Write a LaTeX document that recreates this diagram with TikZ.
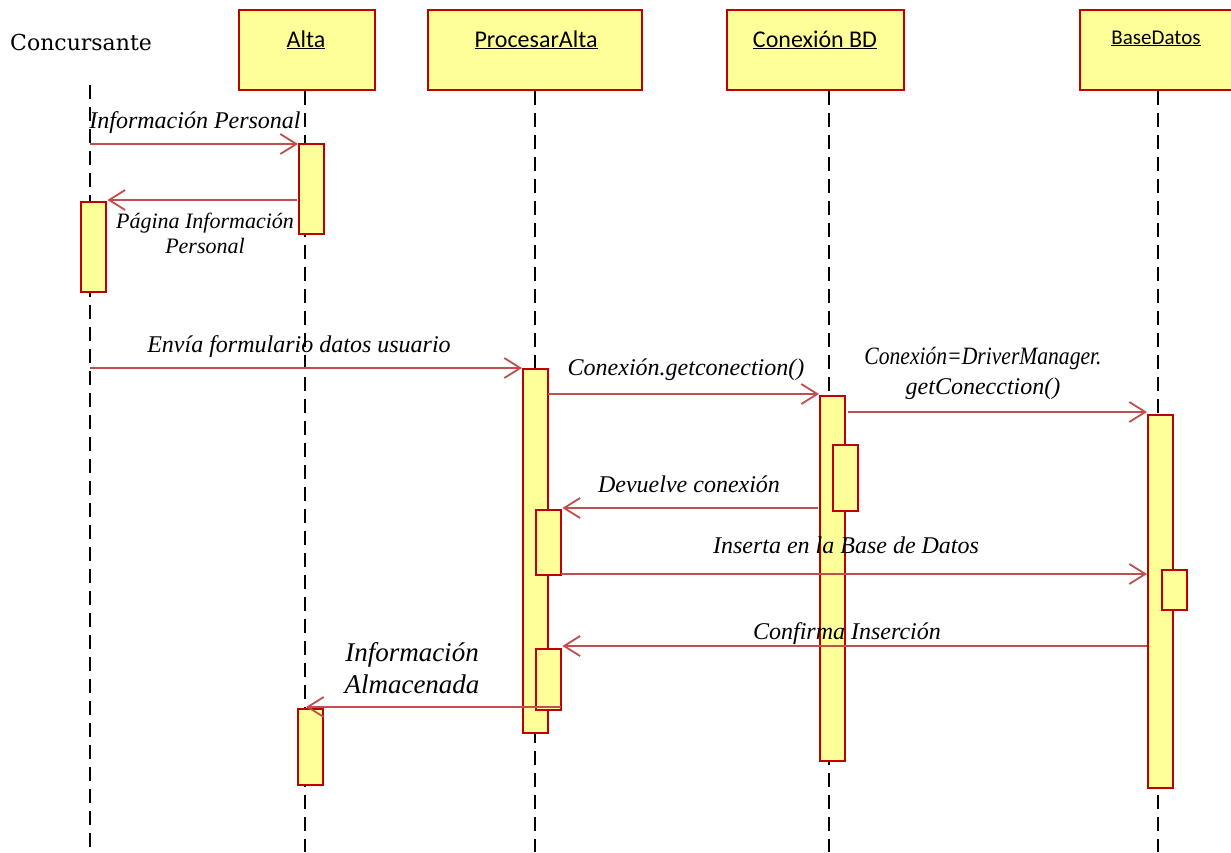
\documentclass[tikz,border=0pt]{standalone}
\usepackage{fontspec}
\usepackage{graphicx}
\newfontfamily\tmsfont{Liberation Serif}
\newfontfamily\hdrfont{Carlito}
\newfontfamily\actorfont{DejaVu Serif}
\usetikzlibrary{arrows.meta}
\definecolor{boxred}{HTML}{C00000}
\definecolor{boxyellow}{HTML}{FFFF99}
\definecolor{msgred}{HTML}{C0504D}
\begin{document}
\begin{tikzpicture}[x=1pt,y=-1pt,
  hdrbox/.style={draw=boxred, fill=boxyellow, line width=2pt, anchor=north west, inner sep=0},
  hdrtext/.style={font=\hdrfont\fontsize{24}{28}\selectfont, anchor=base, inner sep=0},
  act/.style={draw=boxred, fill=boxyellow, line width=2.4pt, anchor=north west, inner sep=0, minimum width=25pt},
  life/.style={black, line width=1.8pt, dash pattern=on 14pt off 8pt},
  msg/.style={msgred, line width=1.8pt, -{Straight Barb[length=16pt,width=20pt,line width=1.8pt]}},
  lbl/.style={font=\tmsfont\itshape\fontsize{24}{30}\selectfont, inner sep=0, align=center}]
\clip (0,0) rectangle (1231,852);
\useasboundingbox (0,0) rectangle (1231,852);
\fill[white] (0,0) rectangle (1231,852);

% participants
\node[font=\actorfont\fontsize{22}{26}\selectfont, anchor=base west, inner sep=0] (conc) at (10,50) {Concursante};
\node[hdrbox, minimum width=136pt, minimum height=80pt] (altaH) at (238,9) {};
\node[hdrbox, minimum width=214pt, minimum height=80pt] (procH) at (427,9) {};
\node[hdrbox, minimum width=177pt, minimum height=80pt] (conH) at (726,9) {};
\node[hdrbox, minimum width=170pt, minimum height=80pt] (bdH) at (1079,9) {};
\node[hdrtext] (altaT) at (306,47) {\underline{Alta}};
\node[hdrtext] (procT) at (536,47) {\underline{ProcesarAlta}};
\node[hdrtext] (conT) at (815,47) {\underline{Conexión BD}};
\node[hdrtext, font=\hdrfont\fontsize{21}{26}\selectfont] (bdT) at (1156,44) {\underline{BaseDatos}};

% lifelines
\coordinate (concTop) at (90,85);
\coordinate (concBot) at (90,852);
\coordinate (altaBot) at (305,852);
\coordinate (procBot) at (535,852);
\coordinate (conBot) at (829,852);
\coordinate (bdBot) at (1158,852);
\draw[life] (concTop) -- (concBot);
\draw[life] (altaH.south -| altaBot) -- (altaBot);
\draw[life] (procH.south -| procBot) -- (procBot);
\draw[life] (conH.south -| conBot) -- (conBot);
\draw[life] (bdH.south -| bdBot) -- (bdBot);

% activations
\node[act, minimum height=90pt] (cAct) at (80,201) {};
\node[act, minimum height=90pt] (aAct1) at (298,143) {};
\node[act, minimum height=76pt] (aAct2) at (297,708) {};
\node[act, minimum height=364pt] (pAct) at (522,368) {};
\node[act, minimum height=65pt] (pAct2) at (535,509) {};
\node[act, minimum height=61pt] (pAct3) at (535,648) {};
\node[act, minimum height=365pt] (cbAct) at (819,395) {};
\node[act, minimum height=66pt] (cbAct2) at (832,444) {};
\node[act, minimum height=373pt] (bdAct) at (1147,414) {};
\node[act, minimum height=40pt] (bdAct2) at (1161,569) {};

% messages
\coordinate (m1) at (90,144);
\coordinate (m2) at (297,200);
\coordinate (m3) at (90,368);
\coordinate (m4) at (548,394);
\coordinate (m5) at (848,412);
\coordinate (m6) at (818,508);
\coordinate (m7) at (561,574);
\coordinate (m8) at (1147,646);
\coordinate (m9) at (561,707);
\coordinate (m9e) at (306,707);
\draw[msg] (m1) -- (m1 -| aAct1.west);
\draw[msg] (m2) -- (m2 -| cAct.east);
\draw[msg] (m3) -- (m3 -| pAct.west);
\draw[msg] (m4) -- (m4 -| cbAct.west);
\draw[msg] (m5) -- (m5 -| bdAct.west);
\draw[msg] (m6) -- (m6 -| pAct2.east);
\draw[msg] (m7) -- (m7 -| bdAct.west);
\draw[msg] (m8) -- (m8 -| pAct3.east);
\draw[msg] (m9) -- (m9e);

% labels
\node[lbl, anchor=base] (l1) at (195,128) {Información Personal};
\node[lbl, font=\tmsfont\itshape\fontsize{22}{25}\selectfont] (l2) at (205,233) {Página Información\\Personal};
\node[lbl, anchor=base] (l3) at (299,352) {Envía formulario datos usuario};
\node[lbl, anchor=base] (l4) at (686,375) {Conexión.getconection()};
\node[lbl] (l5) at (983,373) {\scalebox{0.9}[1.04]{Conexión=DriverManager.}\\getConecction()};
\node[lbl, anchor=base] (l6) at (689,492) {Devuelve conexión};
\node[lbl, anchor=base] (l7) at (846,553) {Inserta en la Base de Datos};
\node[lbl, anchor=base] (l8) at (847,639) {Confirma Inserción};
\node[lbl, font=\tmsfont\itshape\fontsize{27}{32}\selectfont] (l9) at (412,668) {Información\\Almacenada};
\end{tikzpicture}
\end{document}
